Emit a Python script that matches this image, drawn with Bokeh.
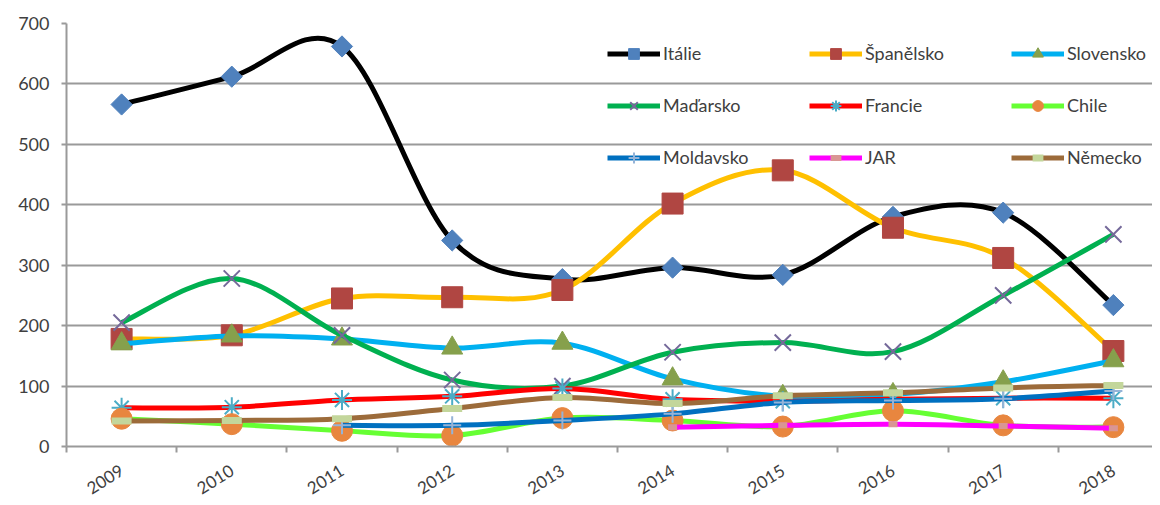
import math
from bokeh.plotting import figure
from bokeh.models import Range1d, FixedTicker, Legend, LegendItem, ColumnDataSource
from bokeh.embed import file_html
from bokeh.resources import INLINE

years = ["2009", "2010", "2011", "2012", "2013", "2014", "2015", "2016", "2017", "2018"]

italie = [566, 612, 662, 341, 277, 296, 284, 380, 387, 234]
spanelsko = [178, 184, 245, 247, 259, 402, 457, 362, 312, 158]
slovensko = [170, 183, 178, 163, 171, 112, 83, 86, 107, 142]
madarsko = [205, 278, 184, 110, 100, 156, 172, 157, 250, 351]
francie = [64, 65, 77, 83, 96, 78, 75, 78, 80, 80]
chile = [46, 37, 26, 18, 47, 43, 33, 59, 35, 32]
moldavsko = [None, None, 35, 35, 43, 54, 73, 76, 79, 92]
jar = [None, None, None, None, None, 32, 35, 37, 34, 30]
nemecko = [42, 43, 46, 63, 81, 71, 84, 89, 97, 101]

series = [
    ("Itálie", italie, "#000000", dict(marker="square", angle=math.pi / 4, size=15, fill_color="#4f81bd", line_color="#4f81bd")),
    ("Španělsko", spanelsko, "#ffc000", dict(marker="square", size=21, fill_color="#b04642", line_color="#b04642")),
    ("Slovensko", slovensko, "#00b0f0", dict(marker="triangle", size=21, fill_color="#86a04c", line_color="#86a04c")),
    ("Maďarsko", madarsko, "#00b050", dict(marker="x", size=23, line_color="#75699a", line_width=2)),
    ("Francie", francie, "#ff0000", dict(marker="asterisk", size=20, line_color="#4bacc6", line_width=2)),
    ("Chile", chile, "#66ff33", dict(marker="circle", size=21, fill_color="#e8863f", line_color="#e8863f")),
    ("Moldavsko", moldavsko, "#0070c0", dict(marker="cross", size=18, line_color="#95b3d7", line_width=2)),
    ("JAR", jar, "#ff00ff", dict(marker="dash", size=9, line_color="#d99694", line_width=6)),
    ("Německo", nemecko, "#9c6b3a", dict(marker="dash", size=20, line_color="#c3d69b", line_width=7)),
]


def smooth_segments(vals):
    pts = [(i, v) for i, v in enumerate(vals) if v is not None]
    n = len(pts)
    d = dict(x0=[], y0=[], x1=[], y1=[], cx0=[], cy0=[], cx1=[], cy1=[])
    for k in range(n - 1):
        p0 = pts[k - 1] if k > 0 else pts[k]
        p1 = pts[k]
        p2 = pts[k + 1]
        p3 = pts[k + 2] if k + 2 < n else pts[k + 1]
        d["x0"].append(p1[0]); d["y0"].append(p1[1])
        d["x1"].append(p2[0]); d["y1"].append(p2[1])
        d["cx0"].append(p1[0] + (p2[0] - p0[0]) / 6.0)
        d["cy0"].append(p1[1] + (p2[1] - p0[1]) / 6.0)
        d["cx1"].append(p2[0] - (p3[0] - p1[0]) / 6.0)
        d["cy1"].append(p2[1] - (p3[1] - p1[1]) / 6.0)
    return d


p = figure(width=1152, height=503, output_backend="svg", toolbar_location=None,
           x_range=Range1d(-0.5, 9.355), y_range=Range1d(0, 700),
           min_border_left=66, min_border_right=0, min_border_top=23, min_border_bottom=57)
p.outline_line_color = None
p.background_fill_color = "white"

FONT = "Lato"
GRAY = "#9a9a9a"

items = []
for name, vals, lc, mk in series:
    seg = ColumnDataSource(smooth_segments(vals))
    r1 = p.bezier(x0="x0", y0="y0", x1="x1", y1="y1", cx0="cx0", cy0="cy0", cx1="cx1", cy1="cy1",
                  source=seg, line_color=lc, line_width=5)
    xs = [i for i, v in enumerate(vals) if v is not None]
    ys = [v for v in vals if v is not None]
    r2 = p.scatter(x=xs, y=ys, **mk)
    items.append(LegendItem(label=name, renderers=[r1, r2]))

legend = Legend(items=items, orientation="horizontal", ncols=3,
                location=(541, 270), padding=0, margin=0, spacing=14,
                glyph_width=53, glyph_height=27, label_height=38, label_width=132,
                label_standoff=3, label_text_font=FONT, label_text_font_size="18px",
                label_text_color="#404040", border_line_alpha=0, background_fill_alpha=0)
p.add_layout(legend, "center")

# axes
p.xaxis.ticker = FixedTicker(ticks=list(range(10)), minor_ticks=[i - 0.5 for i in range(11)])
p.xaxis.major_label_overrides = {i: y for i, y in enumerate(years)}
p.xaxis.major_tick_line_color = None
p.xaxis.minor_tick_in = 0
p.xaxis.minor_tick_out = 6
p.xaxis.minor_tick_line_color = GRAY
p.xaxis.minor_tick_line_width = 2
p.xaxis.axis_line_color = GRAY
p.xaxis.axis_line_width = 2
p.xaxis.major_label_orientation = 0.56
p.xaxis.major_label_text_font = FONT
p.xaxis.major_label_text_font_size = "17px"
p.xaxis.major_label_text_color = "#404040"
p.xaxis.major_label_standoff = 16

p.yaxis.ticker = FixedTicker(ticks=[0, 100, 200, 300, 400, 500, 600, 700], minor_ticks=[])
p.yaxis.major_tick_in = 0
p.yaxis.major_tick_out = 5
p.yaxis.major_tick_line_color = GRAY
p.yaxis.major_tick_line_width = 2
p.yaxis.axis_line_color = GRAY
p.yaxis.axis_line_width = 2
p.yaxis.major_label_text_font = FONT
p.yaxis.major_label_text_font_size = "18px"
p.yaxis.major_label_text_color = "#404040"
p.yaxis.major_label_standoff = 12

p.xgrid.grid_line_color = None
p.ygrid.grid_line_color = GRAY
p.ygrid.grid_line_width = 2

open("out.html", "w").write(file_html(p, INLINE))
